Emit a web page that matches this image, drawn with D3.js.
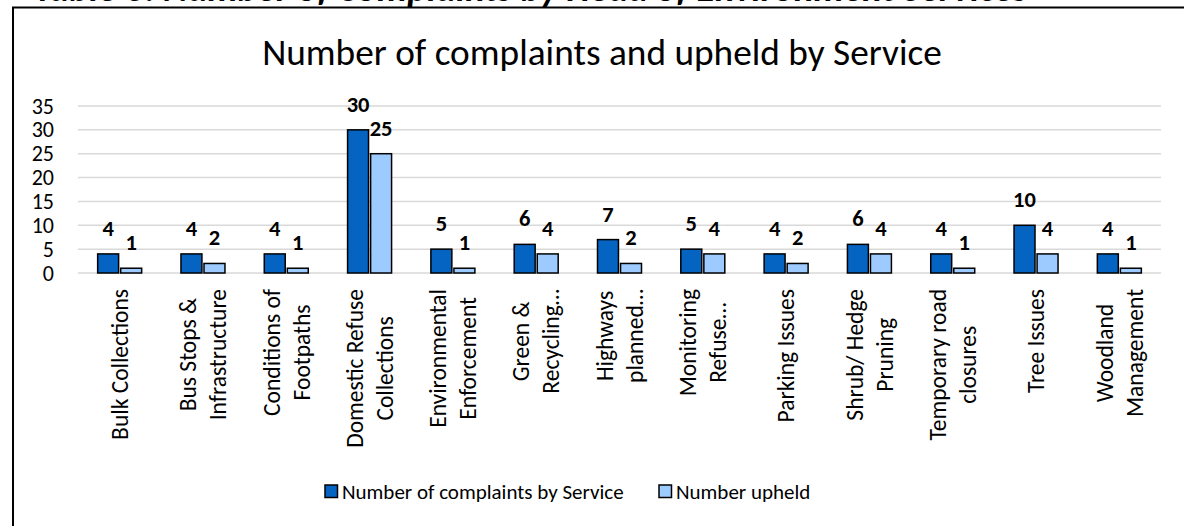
<!DOCTYPE html>
<html>
<head>
<meta charset="utf-8">
<script src="https://cdn.jsdelivr.net/npm/d3@7"></script>
<style>
  body { margin: 0; background: #fff; }
  svg { display: block; font-family: Carlito, Lato, "Noto Sans", sans-serif; }
</style>
</head>
<body>
<svg id="chart" width="1184" height="526"></svg>
<script>
// data
const services = [
    "Bulk Collections", "Bus Stops & Infrastructure", "Conditions of Footpaths",
    "Domestic Refuse Collections", "Environmental Enforcement", "Green & Recycling…",
    "Highways planned…", "Monitoring Refuse…", "Parking Issues", "Shrub/ Hedge Pruning",
    "Temporary road closures", "Tree Issues", "Woodland Management"
];
// how each label wraps
const serviceLines = [
    ["Bulk Collections"], ["Bus Stops &", "Infrastructure"], ["Conditions of", "Footpaths"],
    ["Domestic Refuse", "Collections"], ["Environmental", "Enforcement"], ["Green &", "Recycling…"],
    ["Highways", "planned…"], ["Monitoring", "Refuse…"], ["Parking Issues"], ["Shrub/ Hedge", "Pruning"],
    ["Temporary road", "closures"], ["Tree Issues"], ["Woodland", "Management"]
];
const complaints = [4, 4, 4, 30, 5, 6, 7, 5, 4, 6, 4, 10, 4];
const upheld = [1, 2, 1, 25, 1, 4, 2, 4, 2, 4, 1, 4, 1];
const seriesNames = ["Number of complaints by Service", "Number upheld"];
const seriesColors = ["#0563C1", "#9DCBFF"];
const yTicks = [0, 5, 10, 15, 20, 25, 30, 35];

const svg = d3.select("#chart");

// page heading, cut off at the top of the screenshot
svg.append("text")
    .attr("x", 34).attr("y", 1)
    .attr("font-size", 37.5).attr("font-weight", "bold").attr("font-style", "italic")
    .text("Table 6: Number of Complaints by Head of Environment Services");

// chart frame (runs off the right and bottom edge)
svg.append("rect")
    .attr("x", 13).attr("y", 7.5)
    .attr("width", 1200).attr("height", 540)
    .attr("fill", "#fff").attr("stroke", "#000").attr("stroke-width", 2);

svg.append("text")
    .attr("x", 602).attr("y", 65)
    .attr("text-anchor", "middle")
    .attr("font-size", 37.3)
    .text("Number of complaints and upheld by Service");

let x0 = d3.scaleBand().domain(services).range([78, 1161]);
let x1 = d3.scaleBand().domain(seriesNames).range([0, 44]).paddingInner(0.09);
let y = d3.scaleLinear().domain([0, 35]).range([273, 106]);
let groupOffset = (x0.bandwidth() - 44) / 2;

// gridlines
svg.append("g").selectAll("line").data(yTicks).join("line")
    .attr("x1", 78).attr("x2", 1161)
    .attr("y1", d => y(d)).attr("y2", d => y(d))
    .attr("stroke", "#D9D9D9").attr("stroke-width", 1.5);

// y axis labels
let yAxis = svg.append("g")
    .attr("transform", "translate(61,0)")
    .call(d3.axisLeft(y).tickValues(yTicks).tickSize(0).tickPadding(7));
yAxis.select(".domain").remove();
yAxis.attr("font-family", null).attr("font-size", null);
yAxis.selectAll("text").attr("font-size", 22).attr("fill", "#000");

let rows = services.map((s, i) => ({ service: s, values: [complaints[i], upheld[i]] }));

let groups = svg.append("g").selectAll("g").data(rows).join("g")
    .attr("transform", d => `translate(${x0(d.service) + groupOffset},0)`);

groups.selectAll("rect").data(d => d.values.map((v, k) => ({ v: v, k: k }))).join("rect")
    .attr("x", d => x1(seriesNames[d.k]))
    .attr("width", x1.bandwidth())
    .attr("y", d => y(d.v))
    .attr("height", d => y(0) - y(d.v))
    .attr("fill", d => seriesColors[d.k])
    .attr("stroke", "#000").attr("stroke-width", 1.5);

groups.selectAll("text").data(d => d.values.map((v, k) => ({ v: v, k: k }))).join("text")
    .attr("x", d => x1(seriesNames[d.k]) + x1.bandwidth() / 2)
    .attr("y", d => y(d.v) - 18)
    .attr("text-anchor", "middle")
    .attr("font-size", 22.5).attr("font-weight", "bold")
    .text(d => d.v);

// category labels, rotated, block aligned to the axis and lines centred
let catLabels = svg.append("g");
services.forEach((s, i) => {
    let lines = serviceLines[i];
    let cx = x0(s) + x0.bandwidth() / 2;
    let g = catLabels.append("g");
    let texts = lines.map((ln, j) => g.append("text")
        .attr("font-size", 23.5)
        .attr("text-anchor", "middle")
        .attr("dy", "0.35em")
        .text(ln));
    let maxLen = d3.max(texts, t => t.node().getComputedTextLength());
    texts.forEach((t, j) => {
        let lx = cx + (j - (lines.length - 1) / 2) * 30;
        let ly = 289 + maxLen / 2;
        t.attr("transform", `translate(${lx},${ly}) rotate(-90)`);
    });
});

// legend
let legendX = [325, 659];
let legend = svg.append("g").selectAll("g").data(seriesNames).join("g")
    .attr("transform", (d, i) => `translate(${legendX[i]},485)`);
legend.append("rect")
    .attr("width", 12.5).attr("height", 12.5)
    .attr("fill", (d, i) => seriesColors[i])
    .attr("stroke", "#000").attr("stroke-width", 1.5);
legend.append("text")
    .attr("x", 17).attr("y", 13.5)
    .attr("font-size", 21)
    .text(d => d);
</script>
</body>
</html>
